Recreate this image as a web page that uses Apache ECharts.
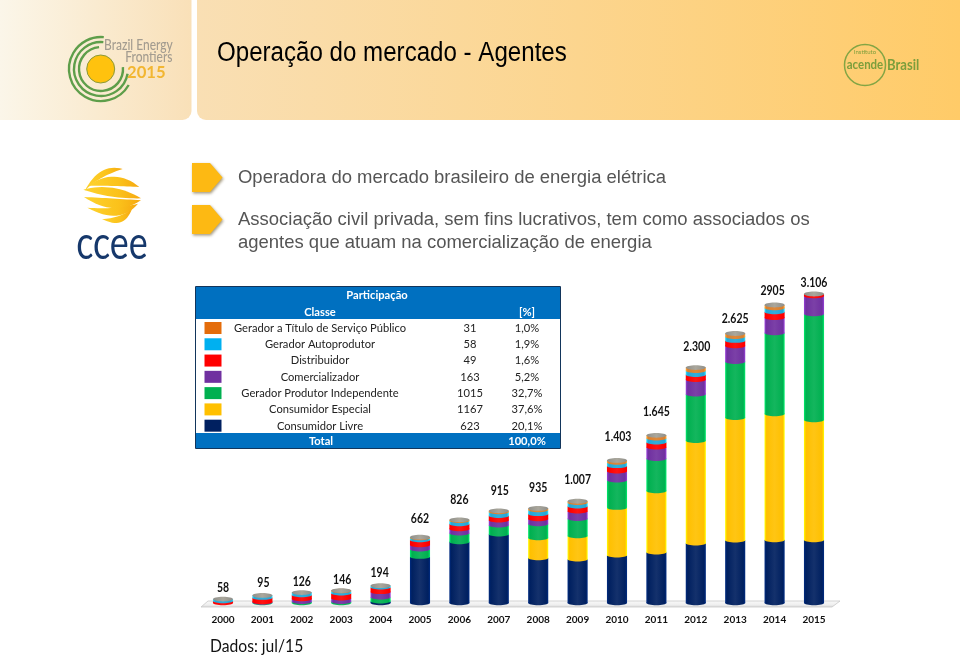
<!DOCTYPE html>
<html><head><meta charset="utf-8">
<style>html,body{margin:0;padding:0;background:#fff}#c{width:960px;height:655px}</style>
<script src="https://cdn.jsdelivr.net/npm/echarts@6/dist/echarts.min.js"></script>
</head><body><div id="c"></div>
<script>
const years = ['2000','2001','2002','2003','2004','2005','2006','2007','2008','2009','2010','2011','2012','2013','2014','2015'];
const totalLabels = ['58','95','126','146','194','662','826','915','935','1.007','1.403','1.645','2.300','2.625','2905','3.106'];
const livre      = [0,0,0,0,17,468,616,694,455,441,482,512,603,633,636,636];
const especial   = [0,0,0,0,0,0,0,0,202,235,481,619,1036,1238,1273,1212];
const produtor   = [0,5,13,13,40,75,88,91,141,175,277,326,469,566,818,1071];
const comerc     = [0,5,27,34,55,43,43,51,51,75,91,115,147,159,155,182];
const distrib    = [20,44,40,51,46,51,51,46,51,51,54,51,51,54,58,20];
const autoprod   = [20,23,25,23,17,20,33,37,40,36,33,40,40,40,40,0];
const tituloServ = [0,0,0,5,0,8,9,12,15,15,22,31,32,32,30,0];

const tableTitle = 'Participação';
const tableHead = ['Classe','[%]'];
const classes = ['Gerador a Título de Serviço Público','Gerador Autoprodutor','Distribuidor','Comercializador','Gerador Produtor Independente','Consumidor Especial','Consumidor Livre'];
const counts = ['31','58','49','163','1015','1167','623'];
const shares = ['1,0%','1,9%','1,6%','5,2%','32,7%','37,6%','20,1%'];
const totalRow = ['Total','100,0%'];

const swatchColors = ['#E46C0A','#00B0F0','#FF0000','#7030A0','#00B050','#FFC000','#002060'];
const stack = [
  [livre,'#002060'],[especial,'#FFC000'],[produtor,'#00B050'],[comerc,'#7030A0'],
  [distrib,'#FF0000'],[autoprod,'#22A8D8'],[tituloServ,'#DB7F2C']
];
const LG = echarts.graphic.LinearGradient;
const lift = echarts.color.lift;
function cyl(c){return new LG(0,0,1,0,[{offset:0,color:lift(c,-0.35)},{offset:0.1,color:c},{offset:0.5,color:lift(c,0.08)},{offset:0.9,color:c},{offset:1,color:lift(c,-0.35)}]);}

const base = new Array(years.length).fill(0);
const series = stack.map(([vals,color])=>{
  const data = vals.map((v,i)=>{const s=base[i]; base[i]+=v; return [i,s,base[i]];});
  const fill = cyl(color);
  return {type:'custom',coordinateSystem:'cartesian2d',clip:false,z:3,silent:true,
    encode:{x:0,y:[1,2]},data,
    renderItem(p,api){
      const i=api.value(0),a=api.value(1),b=api.value(2);
      if(b<=a) return null;
      const w=api.size([1,0])[0]*0.51;
      const pb=api.coord([i,a]),pt=api.coord([i,b]);
      return {type:'group',children:[
        {type:'ellipse',shape:{cx:pb[0],cy:pb[1],rx:w/2,ry:2.2},style:{fill}},
        {type:'rect',shape:{x:pb[0]-w/2,y:pt[1],width:w,height:pb[1]-pt[1]},style:{fill}}
      ]};
    }};
});
const labelGap = [11,12,11,11,13,18,20,20,20,21,23,23,21,15,14,11];
const labelShift = [0,1,0,1,-1,0,0,1,0,0,1,0,1,0,-2,0];
series.push({type:'custom',coordinateSystem:'cartesian2d',clip:false,z:4,silent:true,
  encode:{x:0,y:1},data:base.map((t,i)=>[i,t]),
  renderItem(p,api){
    const i=api.value(0),c=api.coord([i,api.value(1)]);
    const w=api.size([1,0])[0]*0.51;
    return {type:'group',children:[
      {type:'ellipse',shape:{cx:c[0],cy:c[1],rx:w/2,ry:2.4},style:{fill:new LG(0,0,1,0,[{offset:0,color:'#8f8f8a'},{offset:.5,color:'#aaa79c'},{offset:1,color:'#8f8f8a'}])}},
      {type:'text',x:c[0]+labelShift[i],y:c[1]-labelGap[i],scaleX:0.84,style:{text:totalLabels[i],font:'bold 12.5px Lato',fill:'#111',align:'center',verticalAlign:'middle',textAlign:'center',textVerticalAlign:'middle'}}
    ]};
  }});

function T(text,x,y,size,fill,o={}){
  return {type:'text',x,y,z:o.z||5,scaleX:o.sx||1,scaleY:o.sy||1,style:{text,fill,
    font:(o.w||'normal')+' '+size+'px '+(o.f||'Lato'),
    align:o.a||'center',textAlign:o.a||'center',verticalAlign:'middle',textVerticalAlign:'middle'}};
}
const g=[];
// Cabeçalho
g.push({type:'rect',z:0,shape:{x:0,y:0,width:191.5,height:120,r:[0,0,9,0]},style:{fill:new LG(0,0,1,0,[{offset:0,color:'#FBF6E9'},{offset:1,color:'#F9E0B8'}])}});
g.push({type:'rect',z:0,shape:{x:197,y:0,width:763,height:120,r:[0,0,0,9]},style:{fill:new LG(0,0,1,0,[{offset:0,color:'#F9DFB4'},{offset:1,color:'#FFCB68'}])}});
g.push(T('Operação do mercado - Agentes',217,53.5,27,'#000',{a:'left',f:'Liberation Sans',sx:0.893}));
// Logo Brazil Energy Frontiers
[[32,30,275],[27,10,275],[22,-5,265]].forEach(([r,s,e])=>{
  g.push({type:'arc',z:2,shape:{cx:101,cy:69,r,startAngle:s*Math.PI/180,endAngle:e*Math.PI/180,clockwise:true},style:{stroke:'#5E9E4A',lineWidth:2.4,fill:null}});
});
g.push({type:'circle',z:2,shape:{cx:100.7,cy:69,r:14},style:{fill:'#FFC20E',stroke:'#8A9A3A',lineWidth:1}});
g.push(T('Brazil Energy',104,45,15,'#A39C90',{a:'left',sx:0.8,w:'500'}));
g.push(T('Frontiers',172.5,57,15,'#A39C90',{a:'right',sx:0.8,w:'500'}));
g.push(T('2015',127,72,17.5,'#F2B632',{a:'left',w:'bold',sx:0.95}));
// Logo Acende Brasil
g.push({type:'circle',z:2,shape:{cx:865,cy:65,r:20.5},style:{fill:null,stroke:'#83A544',lineWidth:1.5}});
g.push(T('acende',865,65,13.5,'#7C9E3C',{w:'bold',sx:0.85}));
g.push(T('Instituto',865,52.5,6,'#7C9E3C'));
g.push(T('Brasil',887,65,16,'#7C9E3C',{a:'left',w:'bold',sx:0.82}));
// Logo CCEE
function crescent(p0,c1,p1,c2){
  const pts=[],q=(a,b,c,t)=>(1-t)*(1-t)*a+2*t*(1-t)*b+t*t*c;
  for(let k=0;k<=16;k++){const t=k/16;pts.push([60+q(p0[0],c1[0],p1[0],t)/3,155+q(p0[1],c1[1],p1[1],t)/3]);}
  for(let k=15;k>0;k--){const t=k/16;pts.push([60+q(p0[0],c2[0],p1[0],t)/3,155+q(p0[1],c2[1],p1[1],t)/3]);}
  return pts;
}
const sun=new LG(0,0,1,0,[{offset:0,color:'#FDD22E'},{offset:.6,color:'#FBC21B'},{offset:1,color:'#F6A810'}]);
[
 [[188,42],[118,22],[74,108],[112,66]],
 [[84,92],[165,36],[238,96],[165,92]],
 [[70,104],[160,80],[243,130],[150,132]],
 [[72,126],[160,130],[243,136],[165,188]],
 [[82,158],[165,165],[234,146],[180,212]],
 [[126,192],[178,190],[216,162],[192,226]]
].forEach(s=>g.push({type:'polygon',z:2,shape:{points:crescent(...s)},style:{fill:sun}}));
g.push(T('ccee',112,244,46,'#16386B',{sx:0.78,f:'Lato'}));
// Marcadores
[163,205].forEach(y=>g.push({type:'polygon',z:3,shape:{points:[[192,y],[210,y],[222.5,y+14.5],[210,y+29],[192,y+29]]},style:{fill:'#FDB913',shadowBlur:3,shadowColor:'rgba(90,70,20,.55)',shadowOffsetX:1,shadowOffsetY:1.5}}));
g.push(T('Operadora do mercado brasileiro de energia elétrica',238,178,18.48,'#555',{a:'left',f:'Liberation Sans'}));
g.push(T('Associação civil privada, sem fins lucrativos, tem como associados os',238,220,18.48,'#555',{a:'left',f:'Liberation Sans'}));
g.push(T('agentes que atuam na comercialização de energia',238,242.5,18.48,'#555',{a:'left',f:'Liberation Sans'}));
// Tabela
const tb={sx:0.93};
const tw={sx:0.93,w:'bold'};
g.push({type:'rect',z:1,shape:{x:195.5,y:286.5,width:365,height:162},style:{fill:'#fff',stroke:'#12355B',lineWidth:1}});
g.push({type:'rect',z:2,shape:{x:196,y:287,width:364,height:32},style:{fill:'#0070C0'}});
g.push({type:'rect',z:2,shape:{x:196,y:433,width:364,height:15},style:{fill:'#0070C0'}});
g.push(T(tableTitle,377,295.5,12,'#fff',tw));
g.push(T(tableHead[0],320,312,12,'#fff',tw));
g.push(T(tableHead[1],527,312,12,'#fff',tw));
classes.forEach((c,i)=>{
  const y=328+i*16.28;
  g.push({type:'rect',z:3,shape:{x:204.5,y:y-6,width:17,height:12},style:{fill:swatchColors[i]}});
  g.push(T(c,320,y,12,'#222',tb));
  g.push(T(counts[i],470,y,12,'#222',tb));
  g.push(T(shares[i],527,y,12,'#222',tb));
});
g.push(T(totalRow[0],321,441,12,'#fff',tw));
g.push(T(totalRow[1],527,441,12,'#fff',tw));
// Piso
g.push({type:'polygon',z:1,shape:{points:[[201,607],[208,601],[840,601],[832,607]]},style:{fill:new LG(0,0,0,1,[{offset:0,color:'#FAFAFA'},{offset:.6,color:'#EFEFEF'},{offset:1,color:'#D8D8D8'}]),stroke:'#C8C8C8',lineWidth:.8}});
g.push(T('Dados: jul/15',210,646,18,'#111',{a:'left',sx:0.87}));

const chart=echarts.init(document.getElementById('c'),null,{renderer:'canvas'});
chart.setOption({
  animation:false,backgroundColor:'#fff',
  grid:{left:203.3,width:630.4,top:286.2,height:316.8,containLabel:false},
  xAxis:{type:'category',data:years,axisLine:{show:false},axisTick:{show:false},splitLine:{show:false},
    axisLabel:{interval:0,margin:12,color:'#111',fontFamily:'Lato',fontSize:10,fontWeight:'bold'}},
  yAxis:{type:'value',min:0,max:3200,show:false},
  graphic:{elements:g},
  series
});
</script></body></html>
